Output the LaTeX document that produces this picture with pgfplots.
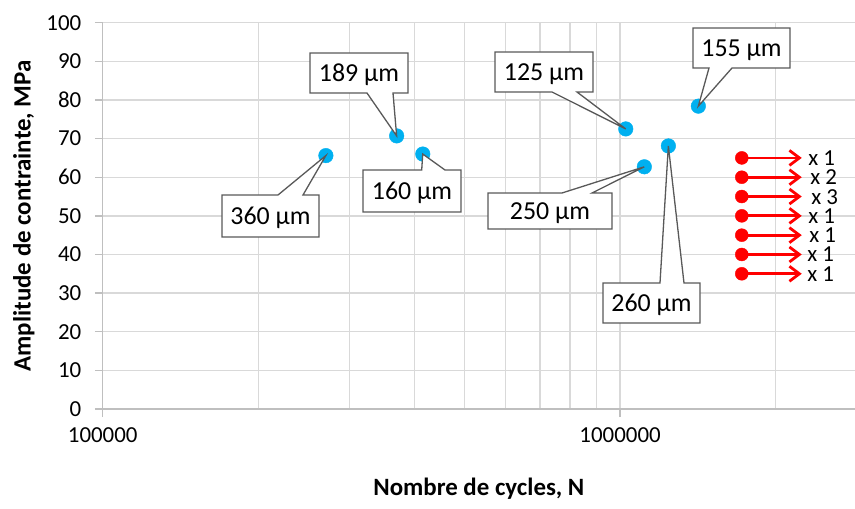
\documentclass[border=0pt]{standalone}
\usepackage{fontspec}
\setmainfont{Carlito}
\usepackage{pgfplots}
\pgfplotsset{compat=1.18}
\usetikzlibrary{arrows.meta}
\definecolor{ptblue}{HTML}{00B0F0}
\definecolor{gridc}{HTML}{D9D9D9}
\definecolor{axisc}{HTML}{BFBFBF}
\definecolor{callc}{HTML}{595959}
\definecolor{runred}{HTML}{FF0000}

% wedge on top edge: x1 x2 ytop ybot wb1 wb2 tip text
\newcommand\calloutT[8]{%
 \draw[callc, line width=1.3bp, fill=white, line join=miter] (#1,#3)--(#5,#3)--(#7)--(#6,#3)--(#2,#3)--(#2,#4)--(#1,#4)--cycle;
 \node[font=\fontsize{26}{30}\selectfont, inner sep=0, anchor=base] at ({(#1+#2)/2},{(#3+#4)/2+8.3}) {#8};}
% wedge on bottom edge
\newcommand\calloutB[8]{%
 \draw[callc, line width=1.3bp, fill=white, line join=miter] (#1,#3)--(#2,#3)--(#2,#4)--(#6,#4)--(#7)--(#5,#4)--(#1,#4)--cycle;
 \node[font=\fontsize{26}{30}\selectfont, inner sep=0, anchor=base] at ({(#1+#2)/2},{(#3+#4)/2+8.3}) {#8};}

\tikzset{runlab/.style={anchor=west, inner sep=0, text height=15bp, text depth=0pt, font=\fontsize{23}{27}\selectfont}}

\begin{document}
\begin{tikzpicture}
\begin{axis}[
 scale only axis, width=752.3bp, height=386.3bp,
 xmode=log, xmin=1e5, xmax=2.846e6, ymin=0, ymax=100,
 axis x line*=bottom, axis y line*=left,
 axis line style={axisc, line width=1.3bp, -},
 xtick={1e5,1e6}, xticklabels={100000,1000000},
 minor xtick={2e5,3e5,4e5,5e5,6e5,7e5,8e5,9e5,2e6},
 ytick={0,10,...,100},
 grid=both,
 major grid style={gridc, line width=1.3bp},
 minor grid style={gridc, line width=1.3bp},
 tick align=outside, major tick length=8bp, minor tick length=0pt,
 tick style={axisc, line width=1.3bp},
 ticklabel style={font=\fontsize{23}{27}\selectfont},
 xticklabel style={yshift=-7bp},
 yticklabel style={xshift=-10bp},
 /pgf/number format/assume math mode=true,
 xlabel={\bfseries Nombre de cycles, N},
 ylabel={\bfseries Amplitude de contrainte, MPa},
 every axis x label/.style={at={(rel axis cs:0.5,0)}, yshift=-80bp, anchor=center, font=\fontsize{25}{30}\selectfont},
 every axis y label/.style={at={(rel axis cs:0,0.5)}, xshift=-79bp, anchor=center, rotate=90, font=\fontsize{25}{30}\selectfont},
 clip=false,
]
% run-outs
\pgfplotsinvokeforeach{35,40,45,50,55,60,65}{
 \addplot[runred, line width=2.8bp, -{Straight Barb[length=10bp,width=15bp,line width=2.8bp]}] coordinates {(1719000,#1) (2245000,#1)};
}
\addplot[only marks, mark=*, mark size=6.5bp, runred, mark options={draw=runred, fill=runred}] coordinates {
 (1719000,65) (1719000,60) (1719000,55) (1719000,50) (1719000,45) (1719000,40) (1719000,35)};
\addplot[only marks, mark=*, mark size=7.3bp, mark options={draw=ptblue, fill=ptblue}] coordinates {
 (270000,65.6) (370000,70.7) (415600,66.0) (1025700,72.5) (1114000,62.7) (1240000,68.1) (1417000,78.4)};
\coordinate (p1) at (axis cs:270000,65.6);
\coordinate (p2) at (axis cs:370000,70.7);
\coordinate (p3) at (axis cs:415600,66.0);
\coordinate (p4) at (axis cs:1025700,72.5);
\coordinate (p5) at (axis cs:1114000,62.7);
\coordinate (p6) at (axis cs:1240000,68.1);
\coordinate (p7) at (axis cs:1417000,78.4);
\node[runlab] at (axis cs:2310000,65) {x 1};
\node[runlab] at (axis cs:2330000,60) {x 2};
\node[runlab] at (axis cs:2340000,55) {x 3};
\node[runlab] at (axis cs:2310000,50) {x 1};
\node[runlab] at (axis cs:2320000,45) {x 1};
\node[runlab] at (axis cs:2300000,40) {x 1};
\node[runlab] at (axis cs:2300000,35) {x 1};
\end{axis}
\begin{scope}[shift={(current axis.south west)}]
\begin{scope}[x=1bp, y=-1bp, shift={(-102.7,-409)}]
\calloutT{222}{319}{195}{237}{278}{303}{p1}{360 µm}
\calloutB{310}{408}{53}{93}{367}{393}{p2}{189 µm}
\calloutT{363}{461}{170}{212}{421.7}{445}{p3}{160 µm}
\calloutB{495}{593}{52}{92}{552}{577}{p4}{125 µm}
\calloutT{488}{612}{193}{229}{562}{592}{p5}{250 µm}
\calloutT{603}{700}{283}{323}{660}{684}{p6}{260 µm}
\calloutB{693}{790}{28}{68}{709}{732}{p7}{155 µm}
\end{scope}
\end{scope}
\pgfresetboundingbox
\path (current axis.south west) ++(-102.7bp,-100bp) rectangle ++(855bp,509bp);
\end{tikzpicture}
\end{document}
